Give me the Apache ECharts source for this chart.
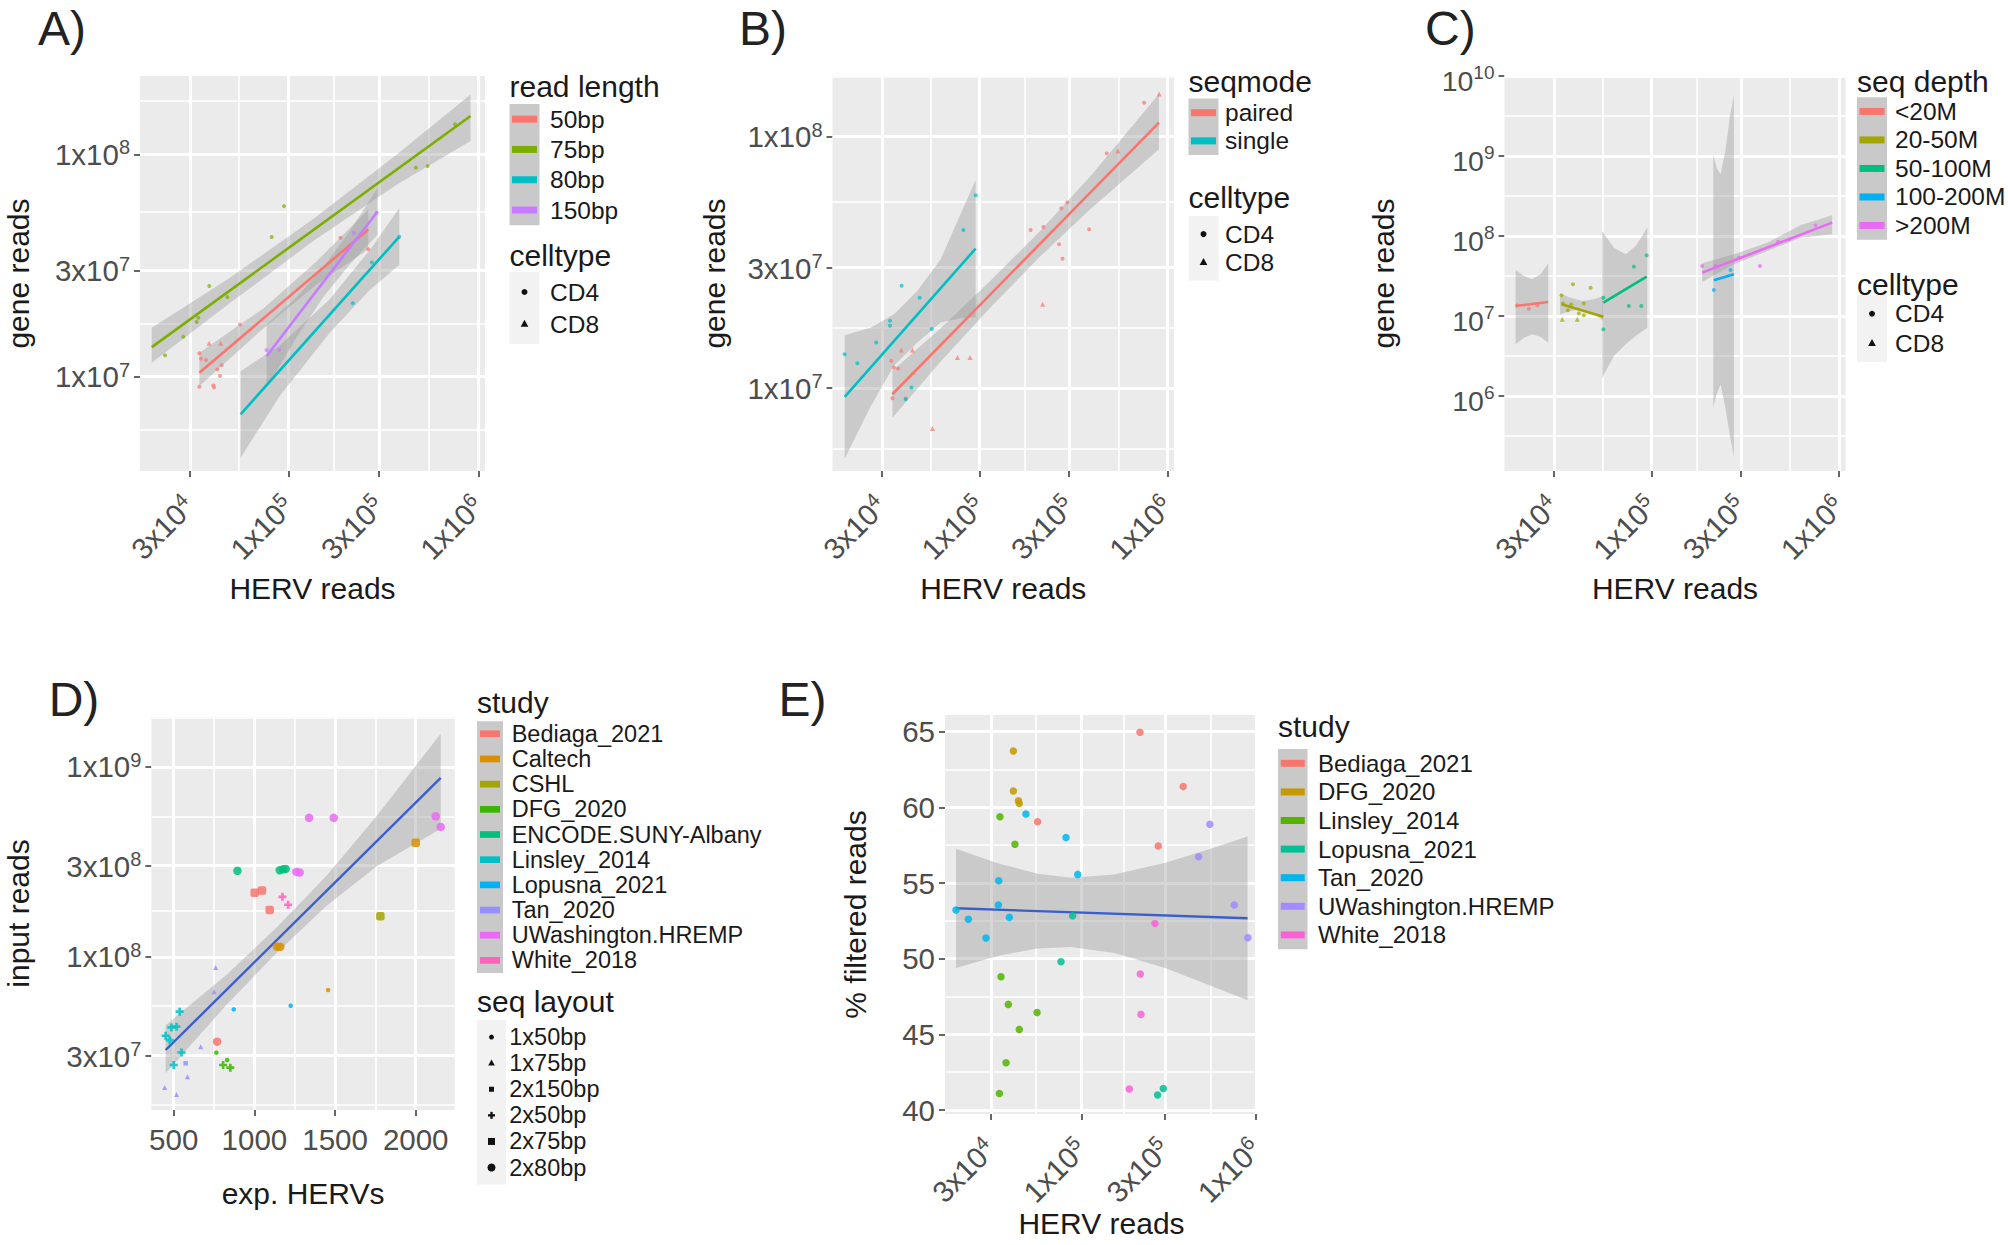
<!DOCTYPE html>
<html>
<head>
<meta charset="utf-8">
<script src="https://cdn.jsdelivr.net/npm/echarts@6/dist/echarts.min.js"></script>
<style>
html,body{margin:0;padding:0;background:#ffffff;}
#chart{width:2008px;height:1245px;}
</style>
</head>
<body>
<div id="chart"></div>
<script>
// ---------------- DATA ----------------
// Log-scaled axes: values are log10 of the counts.
const logXTicks = [4.4771, 5, 5.4771, 6];
const logXTickLabels = ['3x10^4', '1x10^5', '3x10^5', '1x10^6'];
const logXMinor = [4.2157, 4.7386, 5.2386, 5.7386];
const abYTicks = [7, 7.4771, 8];
const abYTickLabels = ['1x10^7', '3x10^7', '1x10^8'];
const abYMinor = [6.7614, 7.2386, 7.7386, 8.2386];
const cYTicks = [6, 7, 8, 9, 10];
const cYTickLabels = ['10^6', '10^7', '10^8', '10^9', '10^10'];
const cYMinor = [5.5, 6.5, 7.5, 8.5, 9.5];
const dXTicks = [500, 1000, 1500, 2000];
const dXTickLabels = ['500', '1000', '1500', '2000'];
const dXMinor = [750, 1250, 1750, 2250];
const dYTicks = [7.4771, 8, 8.4771, 9];
const dYTickLabels = ['3x10^7', '1x10^8', '3x10^8', '1x10^9'];
const dYMinor = [7.2157, 7.7386, 8.2386, 8.7386, 9.2614];
const eYTicks = [40, 45, 50, 55, 60, 65];
const eYTickLabels = ['40', '45', '50', '55', '60', '65'];
const eYMinor = [42.5, 47.5, 52.5, 57.5, 62.5];

// axis extents
const aXRange = [4.217, 6.035], aYRange = [6.576, 8.352];
const bXRange = [4.217, 6.035], bYRange = [6.671, 8.241];
const cXRange = [4.217, 6.035], cYRange = [5.0625, 10.0];
const dXRange = [361.6, 2241.7], dYRange = [7.193, 9.263];
const eXRange = [4.217, 6.012], eYRange = [39.74, 66.10];

// Panel A : read length  [log10 HERV reads, log10 gene reads, celltype]
const aGroups = ['50bp', '75bp', '80bp', '150bp'];
const aColors = ['#F8766D', '#7CAE00', '#00BFC4', '#C77CFF'];
const a50 = [[4.530,7.105,'CD4'],[4.538,7.081,'CD4'],[4.565,7.075,'CD4'],[4.581,7.150,'CD8'],[4.642,7.150,'CD8'],[4.647,7.052,'CD4'],[4.625,7.033,'CD4'],[4.639,7.003,'CD4'],[4.530,6.955,'CD4'],[4.603,6.961,'CD4'],[4.607,6.951,'CD4'],[4.744,7.235,'CD4'],[5.274,7.625,'CD4'],[5.420,7.573,'CD4']];
const a75 = [[4.349,7.096,'CD4'],[4.445,7.180,'CD4'],[4.516,7.246,'CD4'],[4.524,7.265,'CD4'],[4.582,7.408,'CD4'],[4.677,7.358,'CD4'],[4.911,7.628,'CD4'],[4.976,7.767,'CD4'],[5.671,7.940,'CD4'],[5.733,7.947,'CD4'],[5.877,8.135,'CD4']];
const a80 = [[5.338,7.330,'CD4'],[5.439,7.513,'CD4'],[5.583,7.629,'CD4']];
const a150 = [[4.884,7.120,'CD4'],[4.951,7.120,'CD4'],[5.345,7.647,'CD4'],[5.464,7.737,'CD4']];
const aFit50 = [[4.530,7.018],[5.420,7.662]];
const aFit75 = [[4.279,7.133],[5.959,8.172]];
const aFit80 = [[4.747,6.831],[5.583,7.629]];
const aFit150 = [[4.884,7.093],[5.468,7.742]];
// ribbons [x, lower, upper]
const aBand50 = [[4.530,6.958,7.108],[4.867,7.217,7.307],[5.148,7.414,7.519],[5.420,7.573,7.752]];
const aBand75 = [[4.279,7.063,7.220],[4.691,7.331,7.445],[5.130,7.610,7.709],[5.569,7.863,7.998],[5.959,8.060,8.269]];
const aBand80 = [[4.747,6.636,7.025],[4.955,6.916,7.141],[5.218,7.199,7.349],[5.429,7.391,7.571],[5.583,7.502,7.757]];
const aBand150 = [[4.884,6.951,7.235],[5.043,7.178,7.358],[5.183,7.358,7.493],[5.324,7.507,7.656],[5.468,7.637,7.847]];

// Panel B : seqmode
const bGroups = ['paired', 'single'];
const bColors = ['#F8766D', '#00BFC4'];
const bPaired = [[4.530,7.109,'CD4'],[4.544,7.082,'CD4'],[4.566,7.078,'CD4'],[4.583,7.152,'CD8'],[4.642,7.152,'CD8'],[4.536,6.960,'CD4'],[4.607,6.959,'CD4'],[4.647,7.060,'CD4'],[4.749,6.840,'CD8'],[4.882,7.122,'CD8'],[4.949,7.122,'CD8'],[5.272,7.629,'CD4'],[5.340,7.641,'CD4'],[5.336,7.334,'CD8'],[5.423,7.572,'CD4'],[5.435,7.715,'CD4'],[5.441,7.515,'CD4'],[5.467,7.738,'CD4'],[5.583,7.632,'CD4'],[5.677,7.934,'CD4'],[5.737,7.943,'CD8'],[5.876,8.135,'CD4'],[5.956,8.169,'CD8']];
const bSingle = [[4.282,7.135,'CD4'],[4.349,7.099,'CD4'],[4.450,7.182,'CD4'],[4.523,7.268,'CD4'],[4.523,7.248,'CD4'],[4.585,7.407,'CD4'],[4.681,7.360,'CD4'],[4.745,7.235,'CD4'],[4.914,7.629,'CD4'],[4.979,7.767,'CD4'],[4.607,6.956,'CD4'],[4.637,7.003,'CD4']];
const bFitPaired = [[4.536,6.976],[5.955,8.056]];
const bFitSingle = [[4.282,6.966],[4.979,7.555]];
const bBandPaired = [[4.536,6.883,7.069],[4.793,7.106,7.238],[5.059,7.322,7.428],[5.325,7.526,7.627],[5.592,7.713,7.845],[5.955,7.950,8.169]];
const bBandSingle = [[4.282,6.720,7.211],[4.420,6.927,7.240],[4.544,7.089,7.294],[4.669,7.182,7.387],[4.793,7.261,7.513],[4.899,7.278,7.692],[4.979,7.282,7.828]];

// Panel C : seq depth
const cGroups = ['<20M', '20-50M', '50-100M', '100-200M', '>200M'];
const cColors = ['#F8766D', '#A3A500', '#00BF7D', '#00B0F6', '#E76BF3'];
const cLt20 = [[4.285,7.133,'CD4'],[4.347,7.092,'CD4'],[4.392,7.133,'CD4']];
const c20to50 = [[4.521,7.258,'CD4'],[4.529,7.158,'CD4'],[4.525,6.958,'CD8'],[4.555,7.071,'CD4'],[4.573,7.146,'CD4'],[4.605,6.958,'CD8'],[4.614,7.033,'CD4'],[4.640,7.158,'CD4'],[4.640,7.008,'CD4'],[4.582,7.396,'CD4'],[4.676,7.354,'CD4']];
const c50to100 = [[4.744,7.229,'CD4'],[4.744,6.833,'CD4'],[4.880,7.125,'CD4'],[4.907,7.617,'CD4'],[4.946,7.125,'CD4'],[4.975,7.758,'CD4']];
const c100to200 = [[5.333,7.325,'CD4'],[5.422,7.575,'CD4']];
const cGt200 = [[5.271,7.625,'CD4'],[5.342,7.625,'CD4'],[5.467,7.729,'CD4'],[5.579,7.625,'CD4'],[5.675,7.929,'CD4'],[5.733,7.958,'CD4'],[5.875,8.133,'CD4']];
const cFitLt20 = [[4.276,7.125],[4.450,7.175]];
const cFit20to50 = [[4.521,7.146],[4.744,6.992]];
const cFit50to100 = [[4.744,7.167],[4.975,7.492]];
const cFit100to200 = [[5.333,7.446],[5.440,7.521]];
const cFitGt200 = [[5.271,7.542],[5.964,8.167]];
const cBandLt20 = [[4.276,6.646,7.575],[4.321,6.729,7.500],[4.365,6.771,7.458],[4.409,6.742,7.521],[4.450,6.667,7.658]];
const cBand20to50 = [[4.513,7.021,7.279],[4.569,7.063,7.229],[4.632,7.083,7.188],[4.694,7.021,7.208],[4.744,6.938,7.250]];
const cBand50to100 = [[4.738,6.229,8.063],[4.800,6.500,7.854],[4.863,6.646,7.771],[4.916,6.750,7.875],[4.978,6.854,8.104]];
const cBand100to200 = [[5.330,5.854,9.021],[5.348,6.021,8.854],[5.369,6.146,8.771],[5.396,5.833,9.083],[5.419,5.500,9.500],[5.440,5.250,9.750]];
const cBandGt200 = [[5.271,7.425,7.658],[5.440,7.646,7.771],[5.618,7.813,7.917],[5.795,7.979,8.133],[5.964,8.021,8.258]];

// Panel D : [exp. HERVs, log10 input reads, seq layout]
const dStudies = ['Bediaga_2021','Caltech','CSHL','DFG_2020','ENCODE.SUNY-Albany','Linsley_2014','Lopusna_2021','Tan_2020','UWashington.HREMP','White_2018'];
const dColors = ['#F8766D','#D89000','#A3A500','#39B600','#00BF7D','#00BFC4','#00B0F6','#9590FF','#E76BF3','#FF62BC'];
const dLayouts = ['1x50bp','1x75bp','2x150bp','2x50bp','2x75bp','2x80bp'];
const dBediaga = [[1002,8.337,'2x75bp'],[1047,8.349,'2x75bp'],[1095,8.247,'2x75bp'],[769,7.553,'2x80bp']];
const dCaltech = [[2000,8.600,'2x75bp'],[1140,8.053,'2x80bp'],[1161,8.053,'2x80bp'],[1457,7.825,'1x50bp']];
const dCSHL = [[1781,8.214,'2x75bp']];
const dDFG = [[764,7.495,'1x50bp'],[806,7.430,'2x50bp'],[831,7.456,'1x50bp'],[851,7.416,'2x50bp']];
const dENCODE = [[895,8.453,'2x80bp'],[1157,8.456,'2x80bp'],[1178,8.461,'2x80bp'],[1194,8.463,'2x80bp']];
const dLinsley = [[537,7.711,'2x50bp'],[486,7.628,'2x50bp'],[517,7.632,'2x50bp'],[450,7.584,'2x50bp'],[475,7.561,'2x50bp'],[548,7.496,'2x50bp'],[500,7.430,'2x50bp']];
const dLopusna = [[872,7.723,'1x50bp'],[1225,7.742,'1x50bp']];
const dTan = [[760,7.944,'1x75bp'],[750,7.816,'1x75bp'],[667,7.526,'1x75bp'],[574,7.439,'2x150bp'],[585,7.368,'1x75bp'],[444,7.312,'1x75bp'],[517,7.275,'1x75bp']];
const dUWash = [[1339,8.732,'2x80bp'],[1492,8.732,'2x80bp'],[2124,8.740,'2x80bp'],[2155,8.684,'2x80bp'],[1260,8.447,'2x80bp'],[1281,8.444,'2x80bp']];
const dWhite = [[1174,8.316,'2x50bp'],[1209,8.274,'2x50bp']];
const dFit = [[450,7.509],[2155,8.942]];
const dBand = [[450,7.386,7.640],[826,7.746,7.904],[1136,8.019,8.153],[1446,8.267,8.425],[1756,8.475,8.739],[2155,8.675,9.175]];

// Panel E : [log10 HERV reads, % filtered reads]
const eStudies = ['Bediaga_2021','DFG_2020','Linsley_2014','Lopusna_2021','Tan_2020','UWashington.HREMP','White_2018'];
const eColors = ['#F8766D','#C49A00','#53B400','#00C094','#00B6EB','#A58AFF','#FB61D7'];
const eBediaga = [[5.335,64.96],[5.583,61.37],[4.748,59.05],[5.440,57.44]];
const eDFG = [[4.609,63.72],[4.609,61.08],[4.638,60.44],[4.643,60.26]];
const eLinsley = [[4.532,59.38],[4.618,57.56],[4.538,48.81],[4.580,46.98],[4.745,46.45],[4.643,45.33],[4.567,43.13],[4.529,41.10]];
const eLopusna = [[4.949,52.84],[4.882,49.80],[5.436,40.99],[5.469,41.43]];
const eTan = [[4.681,59.56],[4.911,58.00],[4.978,55.57],[4.280,53.22],[4.351,52.60],[4.452,51.37],[4.525,55.15],[4.523,53.55],[4.586,52.73]];
const eUWash = [[5.736,58.88],[5.671,56.74],[5.876,53.55],[5.954,51.39]];
const eWhite = [[5.421,52.33],[5.337,48.99],[5.341,46.32],[5.274,41.39]];
const eFit = [[4.280,53.33],[5.952,52.67]];
const eBand = [[4.280,49.38,57.27],[4.519,50.18,56.30],[4.748,50.68,55.62],[4.939,50.77,55.35],[5.188,50.37,55.57],[5.475,49.41,56.32],[5.723,48.30,57.20],[5.952,47.25,58.08]];

// ---------------- STYLE / LAYOUT ----------------
const FONT = '"Liberation Sans", Arial, Helvetica, sans-serif';
const TICK_COLOR = '#4D4D4D';
const TITLE_COLOR = '#1A1A1A';
const PANEL_BG = '#EBEBEB';
const RIBBON = '#999999';

const gridBoxes = [
  {left: 140, top: 76, width: 345, height: 395},
  {left: 832.5, top: 76, width: 341.5, height: 395},
  {left: 1504.5, top: 76, width: 341, height: 395},
  {left: 151.4, top: 717, width: 303.3, height: 393},
  {left: 945, top: 715, width: 313, height: 399}
];

const richTick = {
  m: {fontSize: 29.5, color: TICK_COLOR, fontFamily: FONT},
  s: {fontSize: 20, color: TICK_COLOR, fontFamily: FONT, padding: [0, 0, 14, 0]}
};
// C axis uses math-style labels (base sits a little below the tick)
const richTickC = {
  m: {fontSize: 28.5, color: TICK_COLOR, fontFamily: FONT, padding: [10, 0, 0, 0]},
  s: {fontSize: 19, color: TICK_COLOR, fontFamily: FONT, padding: [0, 0, 7, 0]}
};

function tickFormatter(ticks, labels) {
  return function (v) {
    const i = ticks.findIndex(t => Math.abs(t - v) < 1e-6);
    if (i < 0) return '';
    const p = labels[i].split('^');
    return p.length > 1 ? '{m|' + p[0] + '}{s|' + p[1] + '}' : '{m|' + p[0] + '}';
  };
}

function makeAxis(gi, range, ticks, labels, name, nameGap, rotated, isY, rich) {
  const ax = {
    type: 'value', gridIndex: gi, min: range[0], max: range[1],
    axisLine: {show: false},
    splitLine: {show: false},
    axisTick: {show: true, customValues: ticks, length: 6, lineStyle: {color: '#333333', width: 1.5}},
    axisLabel: {
      customValues: ticks, formatter: tickFormatter(ticks, labels), rich: rich || richTick,
      margin: 10, color: TICK_COLOR
    },
    name: name, nameLocation: 'middle', nameGap: nameGap, nameMoveOverlap: false,
    nameTextStyle: {fontSize: 30, color: TITLE_COLOR, fontFamily: FONT}
  };
  if (rotated) {
    ax.axisLabel.rotate = 45;
    ax.axisLabel.align = 'right';
    ax.axisLabel.verticalAlign = 'middle';
    ax.axisLabel.margin = 30;
  }
  if (!isY && !rotated) ax.axisLabel.margin = 14;
  return ax;
}

const xAxes = [
  makeAxis(0, aXRange, logXTicks, logXTickLabels, 'HERV reads', 102, true, false),
  makeAxis(1, bXRange, logXTicks, logXTickLabels, 'HERV reads', 102, true, false),
  makeAxis(2, cXRange, logXTicks, logXTickLabels, 'HERV reads', 102, true, false),
  makeAxis(3, dXRange, dXTicks, dXTickLabels, 'exp. HERVs', 68, false, false),
  makeAxis(4, eXRange, logXTicks, logXTickLabels, 'HERV reads', 94, true, false)
];
const yAxes = [
  makeAxis(0, aYRange, abYTicks, abYTickLabels, 'gene reads', 107, false, true),
  makeAxis(1, bYRange, abYTicks, abYTickLabels, 'gene reads', 103, false, true),
  makeAxis(2, cYRange, cYTicks, cYTickLabels, 'gene reads', 106, false, true, richTickC),
  makeAxis(3, dYRange, dYTicks, dYTickLabels, 'input reads', 118, false, true),
  makeAxis(4, eYRange, eYTicks, eYTickLabels, '% filtered reads', 75, false, true)
];

const series = [];

function inRange(v, r) { return v >= r[0] && v <= r[1]; }

function addGridLines(gi, xr, yr, xMaj, xMin, yMaj, yMin) {
  const d = [];
  xMin.filter(v => inRange(v, xr)).forEach(v => d.push({xAxis: v, lineStyle: {width: 1.6}}));
  yMin.filter(v => inRange(v, yr)).forEach(v => d.push({yAxis: v, lineStyle: {width: 1.6}}));
  xMaj.filter(v => inRange(v, xr)).forEach(v => d.push({xAxis: v, lineStyle: {width: 3}}));
  yMaj.filter(v => inRange(v, yr)).forEach(v => d.push({yAxis: v, lineStyle: {width: 3}}));
  series.push({
    type: 'line', xAxisIndex: gi, yAxisIndex: gi, data: [], z: 1, silent: true,
    markLine: {
      z: 1, silent: true, symbol: ['none', 'none'], label: {show: false}, animation: false,
      emphasis: {disabled: true},
      lineStyle: {color: '#FFFFFF', type: 'solid', opacity: 1}, data: d
    }
  });
}

function addRibbon(gi, band) {
  series.push({
    type: 'custom', xAxisIndex: gi, yAxisIndex: gi, z: 2, silent: true,
    data: [[band[0][0], band[0][1]]],
    renderItem: function (params, api) {
      const upper = band.map(p => api.coord([p[0], p[2]]));
      const lower = band.slice().reverse().map(p => api.coord([p[0], p[1]]));
      return {type: 'polygon', shape: {points: upper.concat(lower)}, style: {fill: RIBBON, opacity: 0.4}};
    }
  });
}

function addFit(gi, fit, color, width) {
  series.push({
    type: 'line', xAxisIndex: gi, yAxisIndex: gi, data: fit, symbol: 'none', showSymbol: false,
    lineStyle: {color: color, width: width}, z: 3, silent: true
  });
}

function addCellPoints(gi, pts, color) {
  series.push({
    type: 'scatter', xAxisIndex: gi, yAxisIndex: gi, z: 4, silent: true,
    data: pts,
    symbol: v => (v[2] === 'CD8' ? 'triangle' : 'circle'),
    symbolSize: v => (v[2] === 'CD8' ? 5 : 4),
    itemStyle: {color: color, opacity: 0.7}
  });
}

const PLUS = 'path://M2,0H4V2H6V4H4V6H2V4H0V2H2Z';
const layoutSymbol = {'1x50bp': 'circle', '1x75bp': 'triangle', '2x150bp': 'rect', '2x50bp': PLUS, '2x75bp': 'roundRect', '2x80bp': 'circle'};
const layoutSize = {'1x50bp': 4.5, '1x75bp': 5, '2x150bp': 4.5, '2x50bp': 8, '2x75bp': 8.5, '2x80bp': 8.5};

function addLayoutPoints(gi, pts, color) {
  series.push({
    type: 'scatter', xAxisIndex: gi, yAxisIndex: gi, z: 4, silent: true,
    data: pts,
    symbol: v => layoutSymbol[v[2]],
    symbolSize: v => layoutSize[v[2]],
    itemStyle: {color: color, opacity: 0.85}
  });
}

function addStudyPoints(gi, pts, color) {
  series.push({
    type: 'scatter', xAxisIndex: gi, yAxisIndex: gi, z: 4, silent: true,
    data: pts, symbol: 'circle', symbolSize: 7.5,
    itemStyle: {color: color, opacity: 0.85}
  });
}

// grid lines
addGridLines(0, aXRange, aYRange, logXTicks, logXMinor, abYTicks, abYMinor);
addGridLines(1, bXRange, bYRange, logXTicks, logXMinor, abYTicks, abYMinor);
addGridLines(2, cXRange, cYRange, logXTicks, logXMinor, cYTicks, cYMinor);
addGridLines(3, dXRange, dYRange, dXTicks, dXMinor, dYTicks, dYMinor);
addGridLines(4, eXRange, eYRange, logXTicks, logXMinor, eYTicks, eYMinor);

// Panel A
[aBand50, aBand75, aBand80, aBand150].forEach(b => addRibbon(0, b));
[aFit50, aFit75, aFit80, aFit150].forEach((f, i) => addFit(0, f, aColors[i], 2.6));
[a50, a75, a80, a150].forEach((p, i) => addCellPoints(0, p, aColors[i]));
// Panel B
[bBandPaired, bBandSingle].forEach(b => addRibbon(1, b));
[bFitPaired, bFitSingle].forEach((f, i) => addFit(1, f, bColors[i], 2.6));
[bPaired, bSingle].forEach((p, i) => addCellPoints(1, p, bColors[i]));
// Panel C
[cBandLt20, cBand20to50, cBand50to100, cBand100to200, cBandGt200].forEach(b => addRibbon(2, b));
[cFitLt20, cFit20to50, cFit50to100, cFit100to200, cFitGt200].forEach((f, i) => addFit(2, f, cColors[i], 2.6));
[cLt20, c20to50, c50to100, c100to200, cGt200].forEach((p, i) => addCellPoints(2, p, cColors[i]));
// Panel D
addRibbon(3, dBand);
[dBediaga, dCaltech, dCSHL, dDFG, dENCODE, dLinsley, dLopusna, dTan, dUWash, dWhite].forEach((p, i) => addLayoutPoints(3, p, dColors[i]));
addFit(3, dFit, '#3A5FCD', 2.4);
// Panel E
addRibbon(4, eBand);
addFit(4, eFit, '#3A5FCD', 2.4);
[eBediaga, eDFG, eLinsley, eLopusna, eTan, eUWash, eWhite].forEach((p, i) => addStudyPoints(4, p, eColors[i]));

// ---------------- LEGENDS / LABELS (graphic) ----------------
const graphics = [];
function gText(x, y, text, size, color, vAlign) {
  graphics.push({type: 'text', x: x, y: y, silent: true,
    style: {text: text, font: size + 'px ' + FONT, fill: color || TITLE_COLOR, align: 'left', verticalAlign: vAlign || 'middle'}});
}
function gRect(x, y, w, h, fill) {
  graphics.push({type: 'rect', silent: true, shape: {x: x, y: y, width: w, height: h}, style: {fill: fill}});
}
function gShape(kind, cx, cy, s) {
  const fill = '#111111';
  if (kind === 'circle') graphics.push({type: 'circle', silent: true, shape: {cx: cx, cy: cy, r: s / 2}, style: {fill: fill}});
  else if (kind === 'triangle') graphics.push({type: 'polygon', silent: true, shape: {points: [[cx, cy - s * 0.6], [cx + s * 0.55, cy + s * 0.4], [cx - s * 0.55, cy + s * 0.4]]}, style: {fill: fill}});
  else if (kind === 'rect') gRect(cx - s / 2, cy - s / 2, s, s, fill);
  else if (kind === 'plus') {
    gRect(cx - s / 2, cy - s / 6, s, s / 3, fill);
    gRect(cx - s / 6, cy - s / 2, s / 3, s, fill);
  }
}

function keyLegend(c) {
  gText(c.x, c.titleY, c.title, c.titleSize);
  gRect(c.x, c.blockTop, c.blockW, c.step * c.labels.length, '#C9C9C9');
  c.labels.forEach((lab, i) => {
    const cy = c.blockTop + c.step * (i + 0.5);
    gRect(c.x + (c.blockW - c.barW) / 2, cy - c.barH / 2, c.barW, c.barH, c.colors[i]);
    gText(c.labelX, cy, lab, c.labelSize);
  });
}
function shapeLegend(c) {
  gText(c.x, c.titleY, c.title, c.titleSize);
  gRect(c.x, c.blockTop, c.blockW, c.step * c.labels.length + 8, '#F2F2F2');
  c.labels.forEach((lab, i) => {
    const cy = c.blockTop + 4 + c.step * (i + 0.5);
    gShape(c.shapes[i], c.x + c.blockW / 2, cy, c.sizes[i]);
    gText(c.labelX, cy, lab, c.labelSize);
  });
}

const cellTypes = ['CD4', 'CD8'];
// A
keyLegend({x: 509.5, titleY: 86, title: 'read length', titleSize: 30, blockTop: 104, blockW: 30, step: 30.3,
  barW: 25, barH: 7, labels: aGroups, colors: aColors, labelX: 550, labelSize: 24.5});
shapeLegend({x: 509.5, titleY: 255, title: 'celltype', titleSize: 30, blockTop: 272, blockW: 30, step: 32,
  labels: cellTypes, shapes: ['circle', 'triangle'], sizes: [6, 7], labelX: 550, labelSize: 24.5});
// B
keyLegend({x: 1188.5, titleY: 81, title: 'seqmode', titleSize: 30, blockTop: 98.6, blockW: 30, step: 28.2,
  barW: 25, barH: 7, labels: bGroups, colors: bColors, labelX: 1225, labelSize: 24.5});
shapeLegend({x: 1188.5, titleY: 197, title: 'celltype', titleSize: 30, blockTop: 216, blockW: 30, step: 28.2,
  labels: cellTypes, shapes: ['circle', 'triangle'], sizes: [6, 7], labelX: 1225, labelSize: 24.5});
// C
keyLegend({x: 1857, titleY: 81, title: 'seq depth', titleSize: 30, blockTop: 97.2, blockW: 30, step: 28.5,
  barW: 25, barH: 7, labels: cGroups, colors: cColors, labelX: 1895, labelSize: 24.5});
shapeLegend({x: 1857, titleY: 284, title: 'celltype', titleSize: 30, blockTop: 295, blockW: 30, step: 29.5,
  labels: cellTypes, shapes: ['circle', 'triangle'], sizes: [6, 7], labelX: 1895, labelSize: 24.5});
// D
keyLegend({x: 477, titleY: 702, title: 'study', titleSize: 30, blockTop: 721.2, blockW: 26, step: 25.18,
  barW: 20, barH: 6.7, labels: dStudies, colors: dColors, labelX: 511.7, labelSize: 23.5});
shapeLegend({x: 477, titleY: 1001, title: 'seq layout', titleSize: 30, blockTop: 1020, blockW: 29, step: 26.1,
  labels: dLayouts, shapes: ['circle', 'triangle', 'rect', 'plus', 'rect', 'circle'], sizes: [5, 6, 5, 7, 7, 8],
  labelX: 509.3, labelSize: 23.5});
// E
keyLegend({x: 1278, titleY: 726, title: 'study', titleSize: 30, blockTop: 749, blockW: 29.5, step: 28.6,
  barW: 24, barH: 7, labels: eStudies, colors: eColors, labelX: 1318, labelSize: 24});

// panel letters
const panelLetters = ['A)', 'B)', 'C)', 'D)', 'E)'];
const panelLetterPos = [[38, 4], [739, 4], [1425, 4], [48.7, 675], [778.6, 675]];
panelLetters.forEach((t, i) => gText(panelLetterPos[i][0], panelLetterPos[i][1], t, 48, '#222222', 'top'));

// ---------------- CHART ----------------
const chart = echarts.init(document.getElementById('chart'), null, {renderer: 'svg'});
chart.setOption({
  animation: false,
  backgroundColor: '#FFFFFF',
  textStyle: {fontFamily: FONT},
  grid: gridBoxes.map(g => Object.assign({show: true, backgroundColor: PANEL_BG, borderWidth: 0, containLabel: false, outerBoundsMode: 'none'}, g)),
  xAxis: xAxes,
  yAxis: yAxes,
  series: series,
  graphic: {elements: graphics}
});
</script>
</body>
</html>
